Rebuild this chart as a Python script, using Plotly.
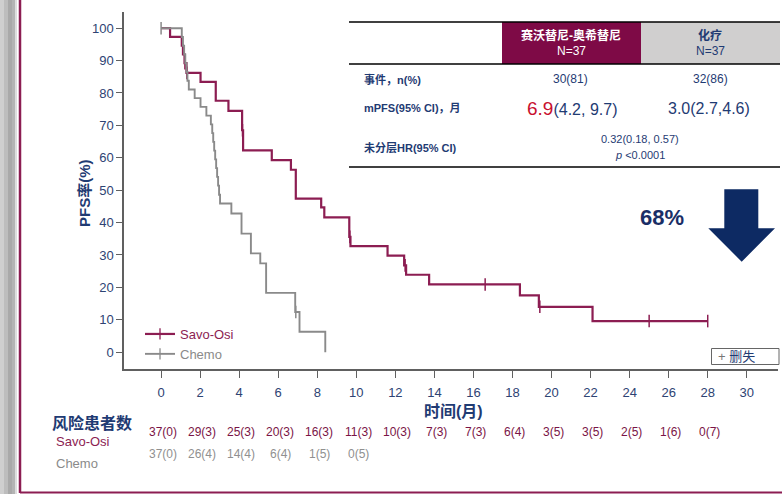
import plotly.graph_objects as go

# ---------------- data ----------------
savo_event_t = [0, 0.46, 1.06, 1.12, 1.2, 1.3, 2.02, 2.8, 3.45, 4.15, 4.2, 5.67, 6.65, 6.9,
                8.2, 8.36, 9.64, 9.7, 11.6, 12.45, 12.55, 13.73, 18.38, 19.35, 22.1]
savo_event_s = [100, 97.3, 94.6, 91.9, 89.2, 86.2, 83.4, 77.6, 74.5, 68.5, 62.3, 59.3, 56.3, 47.4,
                44.7, 41.6, 35.6, 32.7, 29.8, 26.8, 23.9, 20.9, 17.5, 14.0, 9.6]
savo_censor_t = [1.22, 1.32, 4.17, 9.67, 12.5, 16.6, 19.4, 25.0, 28.0]

chemo_event_t = [0, 1.06, 1.12, 1.18, 1.24, 1.3, 1.35, 1.42, 1.72, 2.02, 2.32, 2.55, 2.62, 2.67,
                 2.72, 2.77, 2.82, 2.87, 2.92, 2.97, 3.02, 3.6, 4.12, 4.6, 5.08, 5.38, 6.87, 7.09, 8.41]
chemo_event_s = [100, 97.3, 94.6, 91.9, 89.2, 86.5, 83.8, 81.1, 78.4, 75.7, 73.0, 70.3, 67.6, 64.9,
                 62.2, 59.5, 56.8, 54.1, 51.4, 48.6, 45.9, 42.8, 36.6, 30.5, 27.4, 18.3, 12.4, 6.3, 0]
chemo_censor_t = [0, 6.9]

series_names = ["Savo-Osi", "Chemo"]
x_ticks = [0, 2, 4, 6, 8, 10, 12, 14, 16, 18, 20, 22, 24, 26, 28, 30]
y_ticks = [0, 10, 20, 30, 40, 50, 60, 70, 80, 90, 100]

risk_times = [0, 2, 4, 6, 8, 10, 12, 14, 16, 18, 20, 22, 24, 26, 28]
risk_savo = ["37(0)", "29(3)", "25(3)", "20(3)", "16(3)", "11(3)", "10(3)", "7(3)", "7(3)",
             "6(4)", "3(5)", "3(5)", "2(5)", "1(6)", "0(7)"]
risk_chemo = ["37(0)", "26(4)", "14(4)", "6(4)", "1(5)", "0(5)"]

table_rows = ["事件，n(%)", "mPFS(95% CI)，月", "未分层HR(95% CI)"]
events_savo, events_chemo = "30(81)", "32(86)"
mpfs_savo_median, mpfs_savo_ci = "6.9", "(4.2, 9.7)"
mpfs_chemo = "3.0(2.7,4.6)"
hr_text, p_text = "0.32(0.18, 0.57)", "&lt;0.0001"
reduction_text = "68%"

# ---------------- styles ----------------
W, H = 782, 494
ML, MR, MT, MB = 124, 4, 12, 125
PW, PH = W - ML - MR, H - MT - MB
FONT = "Liberation Sans, Arial, Noto Sans CJK SC, sans-serif"
NAVY = "#1F3B73"
TICK = "#2E4373"
MAROON = "#8C1D52"
GRAY = "#8A8A8A"
AX = "#606060"


def px(x):
    return (x - ML) / PW


def py(y):
    return (MT + PH - y) / PH


def level(ts, ss, t):
    v = ss[0]
    for a, b in zip(ts, ss):
        if a <= t:
            v = b
    return v


def step_points(ts, ss, cts):
    pts = [(t, s, 0) for t, s in zip(ts, ss)] + [(t, level(ts, ss, t), 1) for t in cts]
    pts.sort(key=lambda p: (p[0], p[2]))
    return [p[0] for p in pts], [p[1] for p in pts]


fig = go.Figure()

specs = [
    (series_names[0], savo_event_t, savo_event_s, savo_censor_t, MAROON, 2.2),
    (series_names[1], chemo_event_t, chemo_event_s, chemo_censor_t, GRAY, 1.9),
]
for name, ts, ss, cts, col, lw in specs:
    lx, ly = step_points(ts, ss, cts)
    fig.add_trace(go.Scatter(x=lx, y=ly, mode="lines", line=dict(color=col, width=lw, shape="hv"),
                             showlegend=False, hoverinfo="skip"))
    fig.add_trace(go.Scatter(x=cts, y=[level(ts, ss, t) for t in cts], mode="markers",
                             marker=dict(symbol="line-ns", size=9, line=dict(color=col, width=1.5)),
                             showlegend=False, hoverinfo="skip"))

for name, ts, ss, cts, col, lw in specs:
    fig.add_trace(go.Scatter(x=[None], y=[None], mode="lines+markers",
                             name=f"<span style='color:{col}'>{name}</span>",
                             line=dict(color=col, width=lw),
                             marker=dict(symbol="line-ns", size=8, line=dict(color=col, width=1.3))))

ann = []


def A(x, y, text, size=12, color=NAVY, xanchor="center", bold=False, **kw):
    if bold:
        text = f"<b>{text}</b>"
    ann.append(dict(x=px(x), y=py(y), xref="paper", yref="paper", text=text, showarrow=False,
                    xanchor=xanchor, yanchor="middle", font=dict(size=size, color=color, family=FONT), **kw))


# axis titles
A(84, 193, "PFS率(%)", 15, NAVY, bold=True, textangle=-90)
A(453, 411, "时间(月)", 16, NAVY, bold=True)

# risk table
A(50, 423, "风险患者数", 16, NAVY, xanchor="left", bold=True)
A(54, 441, series_names[0], 13, MAROON, xanchor="left")
A(54, 463, series_names[1], 13, GRAY, xanchor="left")
for t, s in zip(risk_times, risk_savo):
    ann.append(dict(x=t, y=py(441), xref="x", yref="paper", text=s, showarrow=False, xshift=2,
                    font=dict(size=12, color="#7A1446", family=FONT)))
for t, s in zip(risk_times, risk_chemo):
    ann.append(dict(x=t, y=py(463), xref="x", yref="paper", text=s, showarrow=False, xshift=2,
                    font=dict(size=12, color="#909090", family=FONT)))

# table
A(571, 36, "赛沃替尼-奥希替尼", 12, "white", bold=True)
A(571, 51, "N=37", 12, "white")
A(710, 36, "化疗", 12, NAVY, bold=True)
A(710, 51, "N=37", 12, NAVY)
A(362, 79, table_rows[0], 11, NAVY, xanchor="left", bold=True)
A(362, 108, table_rows[1], 11, NAVY, xanchor="left", bold=True)
A(362, 147, table_rows[2], 11, NAVY, xanchor="left", bold=True)
A(570, 79, events_savo, 12, NAVY)
A(710, 79, events_chemo, 12, NAVY)
A(572, 108, f"<span style='color:#C8102E;font-size:19px'>{mpfs_savo_median}</span>{mpfs_savo_ci}", 16, NAVY)
A(709, 108, mpfs_chemo, 16, NAVY)
A(640, 139, hr_text, 11, NAVY)
A(640, 155, f"<i>p</i> {p_text}", 11, NAVY)

A(662, 218, reduction_text, 22, "#1A2E66", bold=True)

# censored legend box
A(716, 356, "<span style='color:#777'>+</span> 删失", 13, NAVY, xanchor="left")

shapes = []


def line(x0, y0, x1, y1, color, width):
    shapes.append(dict(type="line", xref="paper", yref="paper", x0=px(x0), y0=py(y0), x1=px(x1), y1=py(y1),
                       line=dict(color=color, width=width)))


def rect(x0, y0, x1, y1, fill, lc=None, lw=0):
    shapes.append(dict(type="rect", xref="paper", yref="paper", x0=px(x0), y0=py(y0), x1=px(x1), y1=py(y1),
                       fillcolor=fill, line=dict(color=lc or fill, width=lw), layer="below" if lc is None else "above"))


# page decorations
for x0, x1, c in [(0, 4, "#cfcfcf"), (4, 8, "#bdbdbd"), (8, 12, "#a9a9a9"), (12, 15, "#b4b4b4"), (15, 17, "#dedede")]:
    rect(x0, -1, x1, 495, c)
line(20, -2, 20, 493, MAROON, 2.5)
line(20, 492.5, 790, 492.5, MAROON, 2)

# table shapes
rect(502, 22, 641, 64, "#7E0A46")
rect(641, 22, 780, 64, "#D0CFCF")
line(349, 22, 780, 22, "black", 1.6)
line(349, 64, 780, 64, "black", 1.6)
line(349, 167, 780, 167, "black", 1.6)

# censor box
rect(711.5, 348.5, 779, 364.5, "rgba(0,0,0,0)", "#666", 1)

# arrow
pts = [(724.3, 189.3), (758.3, 189.3), (758.3, 228.3), (775, 228.3), (741.7, 261.7), (708.3, 228.3), (724.3, 228.3)]
path = "M " + " L ".join(f"{px(a):.5f},{py(b):.5f}" for a, b in pts) + " Z"
shapes.append(dict(type="path", xref="paper", yref="paper", path=path, fillcolor="#0D2A63",
                   line=dict(color="#0D2A63", width=0)))

axis_common = dict(showgrid=False, zeroline=False, showline=True, linecolor=AX, linewidth=1.5,
                   ticks="outside", tickcolor=AX, tickwidth=1.3,
                   tickfont=dict(size=13, color=TICK, family=FONT))

fig.update_layout(
    width=W, height=H,
    margin=dict(l=ML, r=MR, t=MT, b=MB),
    paper_bgcolor="white", plot_bgcolor="white",
    xaxis=dict(range=[-1.9, 31.6], tickvals=x_ticks, ticklen=7, ticklabelstandoff=4, **axis_common),
    yaxis=dict(range=[-5.2, 105], tickvals=y_ticks, ticklen=6, **axis_common),
    legend=dict(x=px(140), y=py(369), xanchor="left", yanchor="bottom", bgcolor="rgba(0,0,0,0)",
                font=dict(size=13, family=FONT, color=GRAY), tracegroupgap=0, itemwidth=30),
    annotations=ann,
    shapes=shapes,
    showlegend=True,
)

fig.write_html("out.html", config={"displayModeBar": False},
               post_script="document.body.style.margin='0';document.body.style.padding='0';document.body.style.overflow='hidden';")
